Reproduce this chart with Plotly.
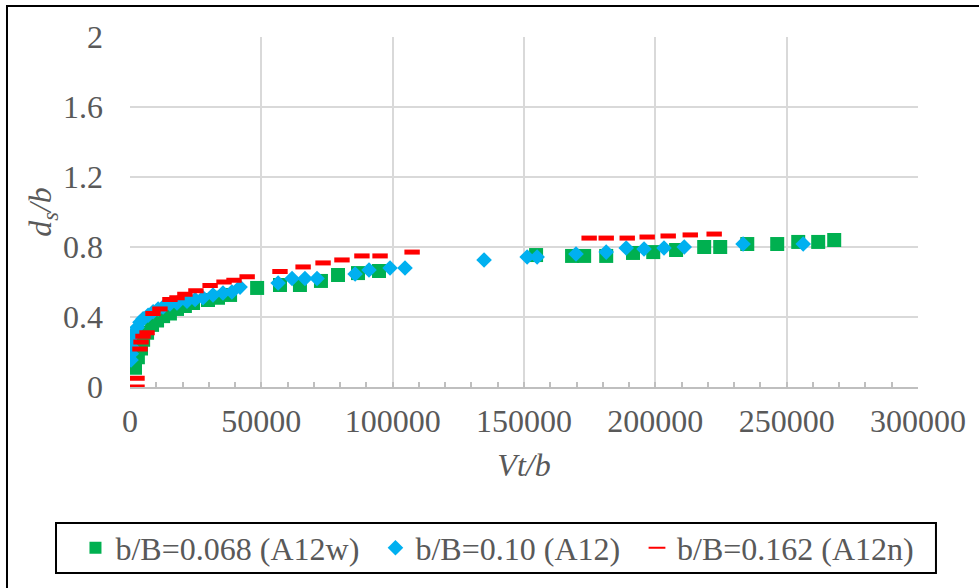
import plotly.graph_objects as go

# Scour depth ratio d_s/b versus dimensionless time Vt/b for three pier/channel width ratios
vtb_A12w = [1900, 3000, 4200, 5000, 6500, 8400, 10300, 12600, 15200, 17900, 20900, 24000,
            29700, 33500, 38100, 48400, 57100, 64700, 72700, 79200, 86800, 94800,
            154600, 168300, 172900, 181300, 191500, 199200, 207900, 218600, 224700,
            235000, 246400, 254400, 262000, 268100]
dsb_A12w = [0.11, 0.17, 0.22, 0.27, 0.31, 0.355, 0.38, 0.405, 0.42, 0.446, 0.463, 0.48,
            0.497, 0.51, 0.526, 0.566, 0.583, 0.583, 0.606, 0.64, 0.651, 0.663,
            0.754, 0.749, 0.749, 0.749, 0.766, 0.771, 0.783, 0.80, 0.80,
            0.817, 0.817, 0.829, 0.829, 0.84]

vtb_A12 = [400, 500, 600, 800, 1500, 2700, 3800, 5000, 6900, 8800, 10700, 12600, 15200,
           17900, 21700, 24800, 27800, 31600, 35400, 38800, 41900, 56400, 61700, 66600,
           71200, 85700, 91000, 99000, 104700, 134800, 151200, 155000, 169800, 181300,
           188900, 195700, 203300, 211000, 233400, 256300]
dsb_A12 = [0.154, 0.19, 0.23, 0.29, 0.31, 0.34, 0.37, 0.39, 0.41, 0.43, 0.446, 0.457, 0.474,
           0.48, 0.49, 0.50, 0.51, 0.526, 0.537, 0.543, 0.571, 0.594, 0.62, 0.62,
           0.62, 0.646, 0.669, 0.68, 0.68, 0.726, 0.743, 0.743, 0.76, 0.771,
           0.794, 0.789, 0.794, 0.80, 0.817, 0.817]

vtb_A12n = [2670, 2670, 3800, 4200, 4950, 6500, 8750, 11400, 15200, 17900, 20900, 25100,
            30500, 35800, 39600, 44600, 57100, 65900, 73500, 80700, 88300, 95200, 107400,
            174800, 181300, 189300, 196900, 204900, 213300, 222400]
dsb_A12n = [0.0, 0.05, 0.217, 0.257, 0.29, 0.31, 0.42, 0.446, 0.50, 0.51, 0.53, 0.55,
            0.58, 0.60, 0.61, 0.63, 0.66, 0.686, 0.709, 0.726, 0.749, 0.749, 0.771,
            0.851, 0.851, 0.851, 0.857, 0.863, 0.869, 0.874]

series_names = ["b/B=0.068 (A12w)", "b/B=0.10 (A12)", "b/B=0.162 (A12n)"]

FONT = "Liberation Serif"
TXT = "#595959"
GRID = "#d9d9d9"
AXIS = "#bfbfbf"

fig = go.Figure()
fig.add_trace(go.Scatter(
    x=vtb_A12w, y=dsb_A12w, mode="markers", name=series_names[0], legend="legend",
    marker=dict(symbol="square", size=14, color="#00B050", line=dict(width=0)),
))
fig.add_trace(go.Scatter(
    x=vtb_A12, y=dsb_A12, mode="markers", name=series_names[1], legend="legend2",
    marker=dict(symbol="diamond", size=12, color="#00B0F0", line=dict(width=0)),
))
fig.add_trace(go.Scatter(
    x=vtb_A12n, y=dsb_A12n, mode="markers", name=series_names[2], legend="legend3",
    marker=dict(symbol="line-ew", size=11, color="#FF0000",
                line=dict(width=5, color="#FF0000")),
))

# one legend entry per series, laid out in a single row below the axes
legend_common = dict(
    orientation="h", xanchor="left", y=-0.46, yanchor="middle",
    bgcolor="rgba(0,0,0,0)", borderwidth=0,
    font=dict(family=FONT, size=32, color=TXT),
    itemsizing="constant",
)

fig.update_layout(
    width=979, height=588,
    margin=dict(l=130, r=61, t=37, b=201, autoexpand=False),
    paper_bgcolor="white", plot_bgcolor="white",
    font=dict(family=FONT, size=32, color=TXT),
    showlegend=True,
    legend=dict(x=-0.0692, **legend_common),
    legend2=dict(x=0.3115, **legend_common),
    legend3=dict(x=0.6434, **legend_common),
    xaxis=dict(
        range=[0, 300000], dtick=50000, tick0=0, tickformat="d",
        showgrid=True, gridcolor=GRID, gridwidth=1.5,
        zeroline=False, showline=True, linecolor=AXIS, linewidth=1.5,
        ticks="inside", ticklen=5, tickcolor=AXIS, tickwidth=1.5,
        minor=dict(dtick=10000, ticks="inside", ticklen=5, tickcolor=AXIS,
                   tickwidth=1.5, showgrid=False),
        ticklabelstandoff=5,
        tickfont=dict(family=FONT, size=32, color=TXT),
        title=dict(text="<i>Vt/b</i>", standoff=15,
                   font=dict(family=FONT, size=32, color=TXT)),
    ),
    yaxis=dict(
        range=[0, 2], dtick=0.4, tick0=0,
        showgrid=True, gridcolor=GRID, gridwidth=1.5,
        zeroline=False, showline=False,
        ticks="", ticklabelstandoff=26,
        tickfont=dict(family=FONT, size=32, color=TXT),
        title=dict(text="<i>d<sub>s</sub>/b</i>", standoff=0,
                   font=dict(family=FONT, size=32, color=TXT)),
    ),
    shapes=[
        # outer chart frame
        dict(type="rect", xref="paper", yref="paper",
             x0=-0.1561, x1=1.10, y0=-0.62, y1=1.0886,
             line=dict(color="#000000", width=2), fillcolor="rgba(0,0,0,0)", layer="below"),
        # legend frame
        dict(type="rect", xref="paper", yref="paper",
             x0=-0.0939, x1=1.0228, y0=-0.5314, y1=-0.3886,
             line=dict(color="#000000", width=2), fillcolor="white", layer="below"),
    ],
)

fig.write_html("out.html")
